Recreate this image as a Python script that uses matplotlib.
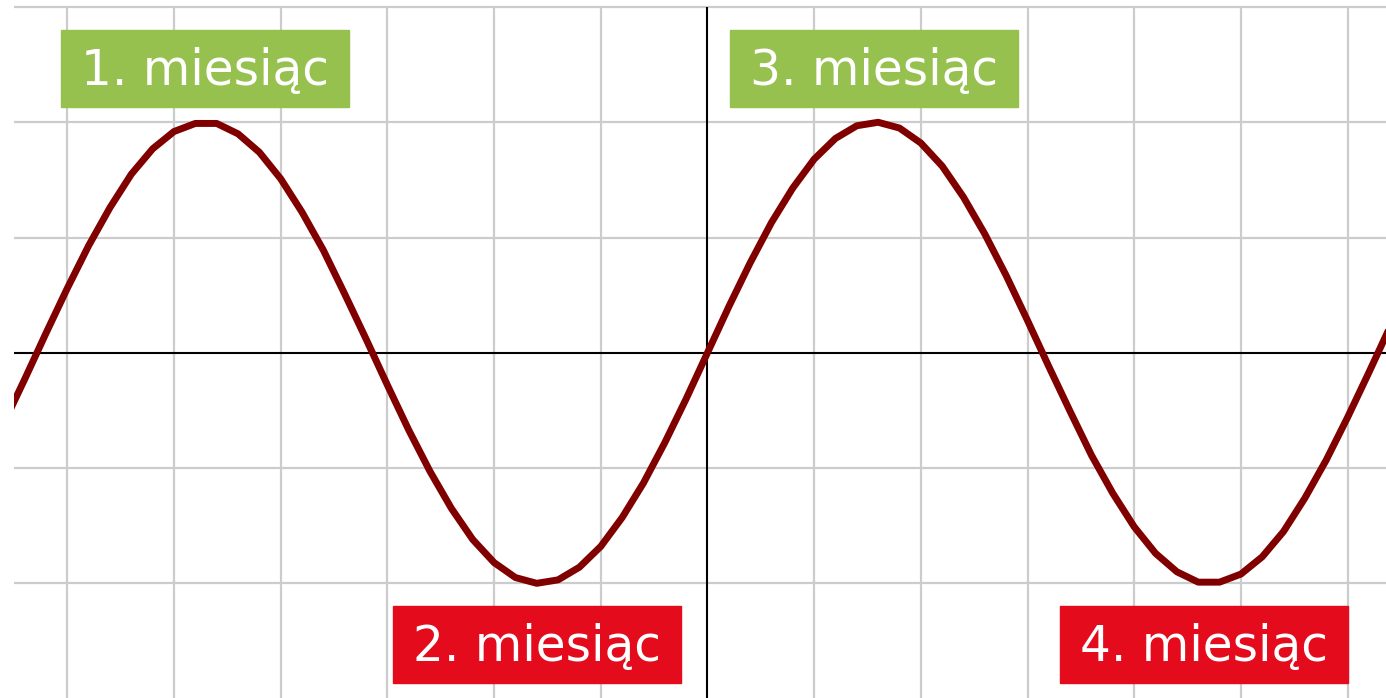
import matplotlib.pyplot as plt
from matplotlib.patches import Rectangle

# wave (x in grid units, y in grid units)
xs = [-6.6, -6.4, -6.2, -6.0, -5.8, -5.6, -5.4, -5.2, -5.0, -4.8, -4.6, -4.4,
      -4.2, -4.0, -3.8, -3.6, -3.4, -3.2, -3.0, -2.8, -2.6, -2.4, -2.2, -2.0,
      -1.8, -1.6, -1.4, -1.2, -1.0, -0.8, -0.6, -0.4, -0.2, 0.0, 0.2, 0.4,
      0.6, 0.8, 1.0, 1.2, 1.4, 1.6, 1.8, 2.0, 2.2, 2.4, 2.6, 2.8, 3.0, 3.2,
      3.4, 3.6, 3.8, 4.0, 4.2, 4.4, 4.6, 4.8, 5.0, 5.2, 5.4, 5.6, 5.8, 6.0,
      6.2, 6.4, 6.6]
ys = [-0.62, -0.23, 0.17, 0.56, 0.93, 1.26, 1.55, 1.77, 1.92, 1.99, 1.99, 1.90,
      1.74, 1.51, 1.22, 0.89, 0.51, 0.12, -0.28, -0.67, -1.03, -1.35, -1.62, -1.82,
      -1.95, -2.00, -1.97, -1.86, -1.68, -1.43, -1.13, -0.78, -0.40, 0.00, 0.40, 0.78,
      1.13, 1.43, 1.68, 1.86, 1.97, 2.00, 1.95, 1.82, 1.62, 1.35, 1.03, 0.67, 0.28, -0.12,
      -0.51, -0.89, -1.22, -1.51, -1.74, -1.90, -1.99, -1.99, -1.92, -1.77, -1.55, -1.26,
      -0.93, -0.56, -0.17, 0.23, 0.62]

grid_x = [-6, -5, -4, -3, -2, -1, 1, 2, 3, 4, 5, 6]
grid_y = [-2, -1, 1, 2, 3]

labels = ["1. miesiąc", "2. miesiąc", "3. miesiąc", "4. miesiąc"]
label_colors = ["#97c14f", "#e30b1c", "#97c14f", "#e30b1c"]
# box left/top corners in pixels
label_pos = [(61, 30), (393, 606), (730, 30), (1060, 606)]

W, H = 1386, 698
fig = plt.figure(figsize=(W / 100, H / 100), dpi=100)
ax = fig.add_axes([0, 0, 1, 1])
ax.set_xlim(-6.631, 6.36)
ax.set_ylim(-2.995, 3.061)
ax.axis("off")

x0, y0 = -6.5, 3.0
ax.hlines(grid_y, x0, 7, color="#cccccc", lw=1.6, zorder=1)
ax.vlines(grid_x, -3.5, y0, color="#cccccc", lw=1.6, zorder=1)
ax.hlines([0], x0, 7, color="black", lw=1.5, zorder=2)
ax.vlines([0], -3.5, y0, color="black", lw=1.5, zorder=2)

line, = ax.plot(xs, ys, color="#800000", lw=5, zorder=3)
clip = Rectangle((x0, -3.5), 14, 7, transform=ax.transData)
line.set_clip_path(clip)

bw, bh = 288, 77
for txt, col, (px, py) in zip(labels, label_colors, label_pos):
    fig.patches.append(Rectangle((px / W, 1 - (py + bh) / H), bw / W, bh / H,
                                 transform=fig.transFigure, color=col, zorder=4))
    fig.text((px + bw / 2) / W, 1 - (py + bh / 2 + 2) / H, txt, color="white",
             fontsize=35, ha="center", va="center", zorder=5,
             family="DejaVu Sans")

fig.savefig("out.png", dpi=100)
